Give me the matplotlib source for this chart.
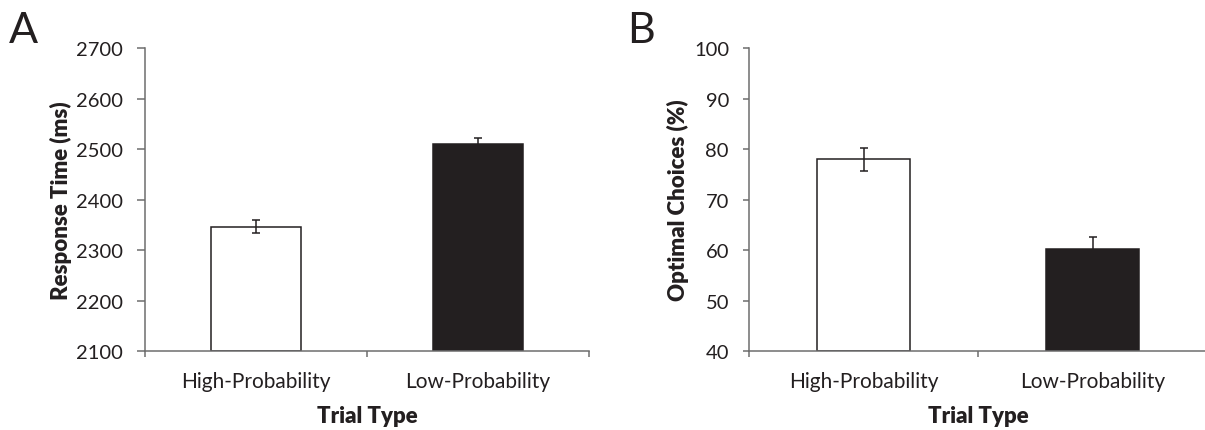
import matplotlib
matplotlib.use("Agg")
import matplotlib.pyplot as plt
import numpy as np

categories = ["High-Probability", "Low-Probability"]
rt_values = [2346, 2511]
rt_errors = [13, 12]
opt_values = [78.0, 60.3]
opt_errors = [2.3, 2.3]
bar_colors = ["white", "#231f20"]

plt.rcParams['font.family'] = ['Lato', 'DejaVu Sans']
PX = 0.72  # points per pixel at dpi 100

fig = plt.figure(figsize=(12.05, 4.31), dpi=100)
axA = fig.add_axes([145/1205, 1-352/431, (589-145)/1205, (352-49.3)/431])
axB = fig.add_axes([749/1205, 1-352/431, (1207-749)/1205, (352-49.3)/431])

def style(ax, vals, errs, ylim, yticks, ylabel, ytick_len, ylab_x):
    x = np.arange(len(categories))
    ax.bar(x, [v - ylim[0] for v in vals], bottom=ylim[0], width=0.405,
           color=bar_colors, edgecolor="#231f20", linewidth=1.1, zorder=2)
    ax.errorbar(x, vals, yerr=errs, fmt="none", ecolor="#231f20",
                elinewidth=1.1, capsize=2.7, capthick=1.1, zorder=3)
    ax.set_xlim(-0.5, 1.5)
    ax.set_ylim(*ylim)
    ax.set_yticks(yticks)
    ax.set_yticklabels([str(t) for t in yticks])
    ax.set_xticks([-0.5, 0.5, 1.5])
    ax.set_xticklabels([])
    ax.set_xticks(x, minor=True)
    ax.set_xticklabels(categories, minor=True)
    ax.tick_params(axis="x", which="minor", length=0, pad=14.5, labelsize=15, labelcolor="#231f20")
    ax.tick_params(axis="x", which="major", length=6*PX, width=1.1, color="#6d6d6d", direction="out")
    ax.tick_params(axis="y", length=ytick_len*PX, width=1.1, color="#6d6d6d", direction="out",
                   labelsize=14.5, labelcolor="#231f20", pad=14*PX)
    for s in ["top", "right"]:
        ax.spines[s].set_visible(False)
    for s in ["left", "bottom"]:
        ax.spines[s].set_color("#6d6d6d")
        ax.spines[s].set_linewidth(1.1)
        ax.spines[s].set_clip_on(False)
    ax.set_ylabel(ylabel, fontsize=16, fontweight="heavy", color="#231f20")
    ax.yaxis.set_label_coords(ylab_x, 0.5)
    ax.set_xlabel("Trial Type", fontsize=16, fontweight="heavy", color="#231f20")
    ax.xaxis.set_label_coords(0.5, -0.178)

style(axA, rt_values, rt_errors, (2100, 2700), [2100, 2200, 2300, 2400, 2500, 2600, 2700],
      "Response Time (ms)", 8, (72-145)/444)
style(axB, opt_values, opt_errors, (40, 100), [40, 50, 60, 70, 80, 90, 100],
      "Optimal Choices (%)", 6, (689-749)/458)

fig.text(9/1205, 1-43/431, "A", fontsize=31, color="#231f20", ha="left", va="baseline")
fig.text(627/1205, 1-43/431, "B", fontsize=31, color="#231f20", ha="left", va="baseline")

fig.savefig("out.png", dpi=100)
